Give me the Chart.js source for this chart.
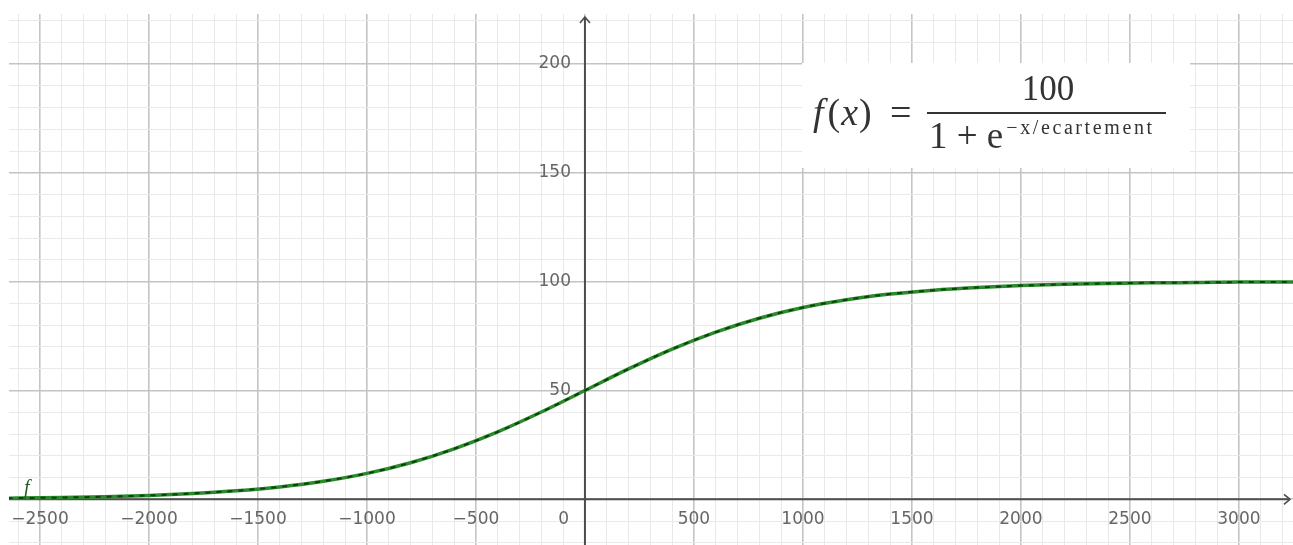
<!DOCTYPE html>
<html>
<head>
<meta charset="utf-8">
<script src="https://cdn.jsdelivr.net/npm/chart.js@4.4.0/dist/chart.umd.min.js"></script>
<style>
  html, body { margin: 0; padding: 0; background: #fff; }
  #cadre { width: 1293px; height: 545px; }
</style>
</head>
<body>
<div id="cadre"><canvas id="graphe"></canvas></div>
<script>
// points
const xPoints = [-2800, -2600, -2400, -2200, -2000, -1800, -1600, -1400, -1200, -1000, -800, -600, -400, -200,
                 0, 200, 400, 600, 800, 1000, 1200, 1400, 1600, 1800, 2000, 2200, 2400, 2600, 2800, 3000, 3200, 3400];
const fPoints = [0.4, 0.55, 0.8, 1.2, 1.8, 2.7, 3.9, 5.7, 8.3, 11.9, 16.8, 23.2, 31.0, 40.1,
                 50.0, 59.9, 69.0, 76.8, 83.2, 88.1, 91.7, 94.3, 96.1, 97.3, 98.2, 98.8, 99.2, 99.5, 99.6, 99.8, 99.8, 99.9];

const xGraduations = [-2500, -2000, -1500, -1000, -500, 500, 1000, 1500, 2000, 2500, 3000];
const xEtiquettes = ['\u22122500', '\u22122000', '\u22121500', '\u22121000', '\u2212500', '500', '1000', '1500', '2000', '2500', '3000'];
const yGraduations = [50, 100, 150, 200];
const yEtiquettes = ['50', '100', '150', '200'];
const etiquetteOrigine = '0';
const nomCourbe = 'f';

const formuleNumerateur = '100';
const formuleDenominateur = '1 + e';
const formuleExposant = '\u2212x/ecartement';

const pasGrilleX = 100, majeurX = 500;
const pasGrilleY = 10, majeurY = 50;

const copiePoints = () => xPoints.map((x, i) => ({ x: x, y: fPoints[i] }));

// graduations de la grille toutes les 100 / 10 unites
const grilleReguliere = (pas) => (axe) => {
    const t = [];
    for (let v = Math.ceil(axe.min / pas) * pas; v <= axe.max; v += pas) t.push({ value: v });
    axe.ticks = t;
};

const geogebra = {
    id: 'geogebra',
    beforeDatasetsDraw(chart) {
        const ctx = chart.ctx;
        const { left, right, top, bottom } = chart.chartArea;
        const x0 = chart.scales.x.getPixelForValue(0);
        const y0 = chart.scales.y.getPixelForValue(0);
        ctx.save();
        ctx.strokeStyle = '#4d4d4d';
        ctx.lineWidth = 2;
        ctx.beginPath();
        ctx.moveTo(left, y0);
        ctx.lineTo(right - 3, y0);
        ctx.moveTo(x0, bottom);
        ctx.lineTo(x0, top + 3);
        ctx.stroke();
        // fleches
        ctx.lineWidth = 1.6;
        ctx.beginPath();
        ctx.moveTo(right - 9, y0 - 5);
        ctx.lineTo(right - 3, y0);
        ctx.lineTo(right - 9, y0 + 5);
        ctx.moveTo(x0 - 5, top + 9);
        ctx.lineTo(x0, top + 3);
        ctx.lineTo(x0 + 5, top + 9);
        ctx.stroke();
        ctx.restore();
    },
    afterDatasetsDraw(chart) {
        const ctx = chart.ctx;
        const sx = chart.scales.x;
        const sy = chart.scales.y;
        const x0 = sx.getPixelForValue(0);
        const y0 = sy.getPixelForValue(0);
        ctx.save();
        ctx.fillStyle = '#666666';
        ctx.font = '17px "DejaVu Sans", sans-serif';
        ctx.textBaseline = 'middle';
        ctx.textAlign = 'center';
        xGraduations.forEach((v, i) => {
            ctx.fillText(xEtiquettes[i], sx.getPixelForValue(v), y0 + 20);
        });
        ctx.textAlign = 'right';
        yGraduations.forEach((v, i) => {
            ctx.fillText(yEtiquettes[i], x0 - 14, sy.getPixelForValue(v));
        });
        ctx.fillText(etiquetteOrigine, x0 - 16, y0 + 20);

        // nom de la courbe
        ctx.fillStyle = '#245c24';
        ctx.textAlign = 'left';
        ctx.textBaseline = 'alphabetic';
        ctx.font = 'italic 20px "Liberation Serif", serif';
        ctx.fillText(nomCourbe, 24, y0 - 5);

        // boite de la formule
        ctx.fillStyle = '#ffffff';
        ctx.fillRect(802, 63, 388, 105);
        ctx.fillStyle = '#333333';
        const serif = '"Liberation Serif", serif';
        let px = 813;
        const base = 125;
        const morceaux = [['f', 'italic'], ['(', ''], ['x', 'italic'], [')', '']];
        morceaux.forEach(([t, st]) => {
            ctx.font = (st ? st + ' ' : '') + '38px ' + serif;
            ctx.fillText(t, px, base);
            px += ctx.measureText(t).width + (t === 'f' ? 4 : 1);
        });
        ctx.font = '38px ' + serif;
        ctx.fillText('=', 890, base);
        const barreG = 927, barreD = 1166;
        ctx.fillRect(barreG, 112, barreD - barreG, 2);
        ctx.font = '35px ' + serif;
        ctx.textAlign = 'center';
        ctx.fillText(formuleNumerateur, 1048, 100);
        ctx.textAlign = 'left';
        ctx.font = '37px ' + serif;
        ctx.fillText(formuleDenominateur, barreG + 2, 148);
        const ew = ctx.measureText(formuleDenominateur).width;
        ctx.font = '20px ' + serif;
        ctx.letterSpacing = '2.6px';
        ctx.fillText(formuleExposant, barreG + 5 + ew, 134);
        ctx.restore();
    }
};

new Chart(document.getElementById('graphe'), {
    type: 'line',
    data: {
        datasets: [{
            label: 'f trait',
            data: copiePoints(),
            borderColor: '#0a420a',
            borderWidth: 2,
            borderDash: [5, 6],
            pointRadius: 0,
            cubicInterpolationMode: 'monotone'
        }, {
            label: 'f',
            data: copiePoints(),
            borderColor: '#2b8a2b',
            borderWidth: 3.5,
            pointRadius: 0,
            cubicInterpolationMode: 'monotone'
        }]
    },
    options: {
        responsive: true,
        maintainAspectRatio: false,
        animation: false,
        layout: { padding: { left: 9, top: 14, right: 0, bottom: 0 } },
        plugins: { legend: { display: false }, tooltip: { enabled: false } },
        scales: {
            x: {
                type: 'linear',
                min: -2642,
                max: 3248,
                border: { display: false },
                afterBuildTicks: grilleReguliere(pasGrilleX),
                grid: {
                    drawTicks: false,
                    color: (c) => (Math.round(c.tick.value) % majeurX === 0 ? '#c4c4c4' : '#e9e9e9'),
                    lineWidth: (c) => (Math.round(c.tick.value) % majeurX === 0 ? 1.6 : 1)
                },
                ticks: { display: false }
            },
            y: {
                type: 'linear',
                min: -21,
                max: 223,
                border: { display: false },
                afterBuildTicks: grilleReguliere(pasGrilleY),
                grid: {
                    drawTicks: false,
                    color: (c) => (Math.round(c.tick.value) % majeurY === 0 ? '#c4c4c4' : '#e9e9e9'),
                    lineWidth: (c) => (Math.round(c.tick.value) % majeurY === 0 ? 1.6 : 1)
                },
                ticks: { display: false }
            }
        }
    },
    plugins: [geogebra]
});
</script>
</body>
</html>
